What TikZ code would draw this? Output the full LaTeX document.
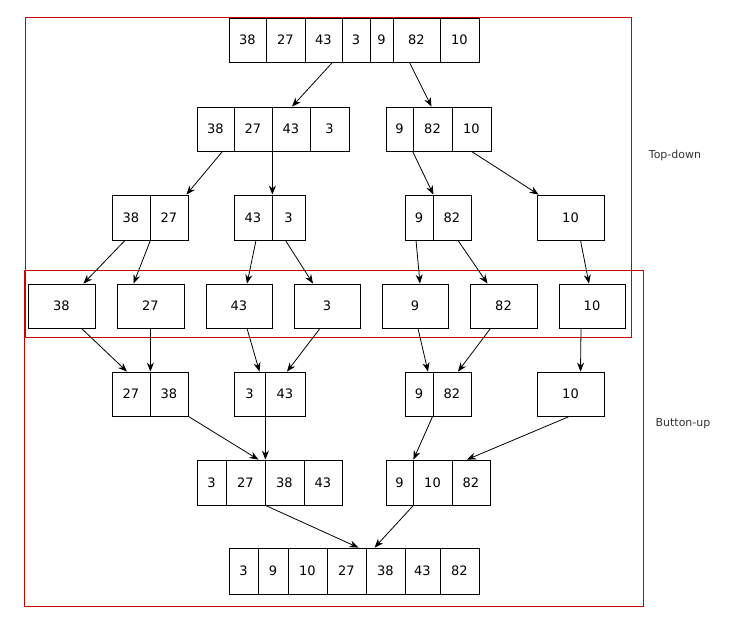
\documentclass[tikz,border=0pt]{standalone}
\usepackage{fontspec}
\setmainfont{DejaVu Sans}
\usetikzlibrary{arrows.meta}
\begin{document}
\begin{tikzpicture}[x=1pt,y=-1pt,
  cell/.style={draw,line width=0.8pt,inner sep=0pt,font=\fontsize{13}{15}\selectfont},
  arr/.style={line width=0.8pt,-{Stealth[length=9pt,width=7pt]}},
  grp/.style={draw=red!80!black,line width=0.7pt},
  lbl/.style={font=\fontsize{11}{13}\selectfont,text=black!80}]
\useasboundingbox (0,0) rectangle (740,627);
\newcommand\cel[6]{\node[cell,minimum width={(#3-#2)*1pt},minimum height={(#5-#4)*1pt}] (#1) at ({(#2+#3)/2},{(#4+#5)/2}) {#6};}
% row 1
\cel{a1}{229}{266}{18}{62}{38}\cel{a2}{266}{305}{18}{62}{27}\cel{a3}{305}{342}{18}{62}{43}
\cel{a4}{342}{370}{18}{62}{3}\cel{a5}{370}{393}{18}{62}{9}\cel{a6}{393}{440}{18}{62}{82}\cel{a7}{440}{479}{18}{62}{10}
% row 2
\cel{b1}{197}{234}{107}{151}{38}\cel{b2}{234}{272}{107}{151}{27}\cel{b3}{272}{310}{107}{151}{43}\cel{b4}{310}{349}{107}{151}{3}
\cel{b5}{386}{413}{107}{151}{9}\cel{b6}{413}{452}{107}{151}{82}\cel{b7}{452}{491}{107}{151}{10}
% row 3
\cel{c1}{112}{150}{195}{240}{38}\cel{c2}{150}{188}{195}{240}{27}
\cel{c3}{234}{272}{195}{240}{43}\cel{c4}{272}{305}{195}{240}{3}
\cel{c5}{405}{433}{195}{240}{9}\cel{c6}{433}{471}{195}{240}{82}
\cel{c7}{537}{604}{195}{240}{10}
% row 4
\cel{d1}{28}{95}{284}{328}{38}\cel{d2}{117}{184}{284}{328}{27}\cel{d3}{206}{272}{284}{328}{43}
\cel{d4}{294}{360}{284}{328}{3}\cel{d5}{382}{448}{284}{328}{9}\cel{d6}{470}{537}{284}{328}{82}\cel{d7}{559}{625}{284}{328}{10}
% row 5
\cel{e1}{112}{150}{372}{416}{27}\cel{e2}{150}{188}{372}{416}{38}
\cel{e3}{234}{265}{372}{416}{3}\cel{e4}{265}{305}{372}{416}{43}
\cel{e5}{405}{433}{372}{416}{9}\cel{e6}{433}{471}{372}{416}{82}
\cel{e7}{537}{604}{372}{416}{10}
% row 6
\cel{f1}{197}{226}{460}{505}{3}\cel{f2}{226}{265}{460}{505}{27}\cel{f3}{265}{304}{460}{505}{38}\cel{f4}{304}{342}{460}{505}{43}
\cel{f5}{386}{413}{460}{505}{9}\cel{f6}{413}{452}{460}{505}{10}\cel{f7}{452}{490}{460}{505}{82}
% row 7
\cel{g1}{229}{258}{548}{594}{3}\cel{g2}{258}{288}{548}{594}{9}\cel{g3}{288}{327}{548}{594}{10}\cel{g4}{327}{366}{548}{594}{27}
\cel{g5}{366}{405}{548}{594}{38}\cel{g6}{405}{440}{548}{594}{43}\cel{g7}{440}{479}{548}{594}{82}
% group boxes
\node[grp,minimum width=606pt,minimum height=320pt,inner sep=0pt] (top) at (328,177) {};
\node[grp,minimum width=619pt,minimum height=336pt,inner sep=0pt] (bot) at (333.5,438) {};
\node[lbl] (tl) at (675,155) {Top-down};
\node[lbl] (bl) at (683,424) {Button-up};
% arrows
\draw[arr] ([xshift=9pt]a3.south) -- ([xshift=1pt]b3.south|-b3.north);
\draw[arr] ([xshift=-7pt]a6.south) -- ([xshift=-1pt]b6.north);
\draw[arr] ([xshift=7pt]b1.south) -- ([xshift=-2pt]c2.north east);
\draw[arr] (b2.south east) -- (c3.north east);
\draw[arr] (b6.south west) -- (c5.north east);
\draw[arr] (b7.south) -- ([xshift=2pt]c7.north west);
\draw[arr] ([xshift=-6pt]c1.south) -- ([xshift=-12pt]d1.north east);
\draw[arr] (c1.south east) -- ([xshift=-17pt]d2.north);
\draw[arr] ([xshift=3pt]c3.south) -- ([xshift=8pt]d3.north);
\draw[arr] ([xshift=-3pt]c4.south) -- ([xshift=-14pt]d4.north);
\draw[arr] ([xshift=-3pt]c5.south) -- ([xshift=5pt]d5.north);
\draw[arr] ([xshift=6pt]c6.south) -- ([xshift=-16pt]d6.north);
\draw[arr] ([xshift=10pt]c7.south) -- ([xshift=-3pt]d7.north);
\draw[arr] ([xshift=20pt]d1.south) -- ([xshift=-4pt]e1.north);
\draw[arr] (e1.north east|-d2.south) -- (e1.north east);
\draw[arr] ([xshift=8pt]d3.south) -- ([xshift=10pt]e3.north);
\draw[arr] ([xshift=-7pt]d4.south) -- ([xshift=2pt]e4.north);
\draw[arr] ([xshift=3pt]d5.south) -- ([xshift=9pt]e5.north);
\draw[arr] ([xshift=-13pt]d6.south) -- ([xshift=6pt]e6.north);
\draw[arr] ([xshift=-11pt]d7.south) -- ([xshift=10pt]e7.north);
\draw[arr] (e2.south east) -- ([xshift=-7pt]f2.north east);
\draw[arr] (e3.south east) -- (f2.north east);
\draw[arr] (e6.south west) -- (f5.north east);
\draw[arr] ([xshift=-1pt]e7.south) -- ([xshift=-4pt]f7.north);
\draw[arr] (f2.south east) -- ([xshift=-8pt]g4.north east);
\draw[arr] (f5.south east) -- ([xshift=9pt]g5.north west);
\end{tikzpicture}
\end{document}
